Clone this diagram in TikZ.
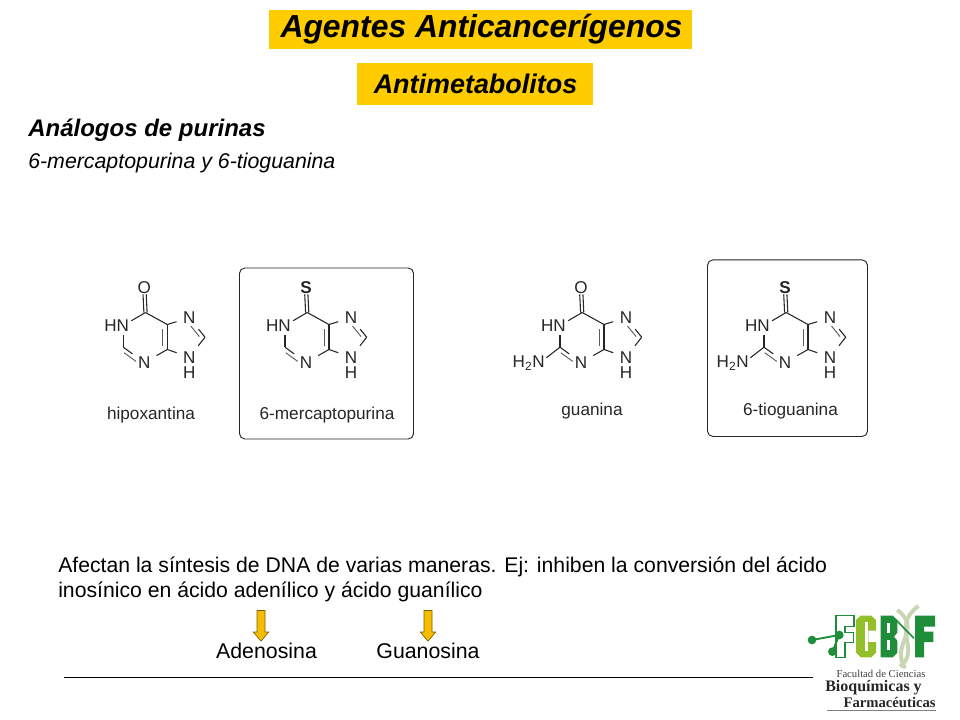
\documentclass[tikz,border=0pt]{standalone}
\usepackage{fontspec}
\setmainfont{Liberation Sans}
\newfontfamily\logofont{Liberation Serif}
\usepackage{xcolor}
\usepackage{tikz}
\usetikzlibrary{shapes,arrows,calc}
\definecolor{banner}{HTML}{FFCC00}
\definecolor{arrowfill}{HTML}{F5BC00}
\definecolor{arrowedge}{HTML}{7F6000}
\definecolor{inkbond}{HTML}{262626}
\definecolor{logodark}{HTML}{1F8E3A}
\definecolor{logolime}{HTML}{93BF2B}
\definecolor{logohelix}{HTML}{C9D6B4}
\tikzstyle{banner} = [rectangle, fill=banner, inner sep=0pt]
\tikzstyle{atom} = [inner sep=0pt, text=inkbond, font=\fontsize{12.8}{14}\selectfont]
\tikzstyle{caption} = [inner sep=0pt, text=inkbond, font=\fontsize{12.9}{15}\selectfont]
\tikzstyle{bond} = [draw=inkbond, line width=0.8pt]
\tikzstyle{tohetero} = [bond, shorten >=5pt]
\tikzstyle{toamide} = [bond, shorten >=7pt]
\tikzstyle{inner} = [draw=inkbond!75, line width=0.7pt, shorten >=5.5pt, shorten <=3pt]
\tikzstyle{panel} = [draw=inkbond, line width=0.7pt, rounded corners=4pt, inner sep=0pt]
\tikzstyle{downarrow} = [single arrow, draw=arrowedge, fill=arrowfill, line width=0.5pt, rotate=-90, inner sep=2.75pt,
    minimum height=23pt, minimum width=11.25pt, single arrow head extend=2.8pt, single arrow tip angle=80, single arrow head indent=0pt]
% one purine ring: prefix, x of the carbonyl carbon, text of the top atom
\newcommand{\purina}[3]{
  \begin{scope}[shift={(#2,312.5)}]
    \coordinate (#1c6) at (0,0);
    \coordinate (#1n1) at (-22.2,13);
    \coordinate (#1c2) at (-22.2,34.7);
    \coordinate (#1c4) at (21.8,37);
    \coordinate (#1c5) at (21.8,12);
    \coordinate (#1c8) at (59.5,24.7);
    \node [atom] (#1top) at (-1.2,-24.8) {#3};
    \node [atom, anchor=east] (#1hn) at (-16.2,13) {HN};
    \node [atom] (#1n3) at (-1.2,50) {N};
    \node [atom] (#1n7) at (43.8,5.3) {N};
    \node [atom] (#1n9) at (43.8,44.7) {N};
    \node [atom] (#1h9) at (43.8,60.3) {H};
    % bonds
    \path [toamide] (#1c6) -- (#1n1);
    \path [toamide] (#1c2) -- (#1n1);
    \path [tohetero] (#1c2) -- (#1n3);
    \path [tohetero] (#1c4) -- (#1n3);
    \path [bond] (#1c4) -- (#1c5);
    \path [bond] (#1c5) -- (#1c6);
    \path [tohetero] (#1c5) -- (#1n7);
    \path [tohetero] (#1c8) -- (#1n7);
    \path [tohetero] (#1c8) -- (#1n9);
    \path [tohetero] (#1c4) -- (#1n9);
    \path [inner] ($(#1c2)!3pt!-90:(#1n3)$) -- ($(#1n3)!3pt!90:(#1c2)$);
    \path [inner] ($(#1c8)!3pt!90:(#1n7)$) -- ($(#1n7)!3pt!-90:(#1c8)$);
    \path [inner, shorten >=3pt] ($(#1c4)!3.5pt!90:(#1c5)$) -- ($(#1c5)!3.5pt!-90:(#1c4)$);
    \path [tohetero] ($(#1c6)!1.2pt!90:(#1top)$) -- ($(#1top)!1.2pt!-90:(#1c6)$);
    \path [tohetero] ($(#1c6)!1.2pt!-90:(#1top)$) -- ($(#1top)!1.2pt!90:(#1c6)$);
  \end{scope}
}
% amino group on C2
\newcommand{\amino}[2]{
  \begin{scope}[shift={(#2,312.5)}]
    \coordinate (#1n2) at (-43.3,51);
    \node [atom, anchor=east] (#1nh) at (-37.3,51) {H\textsubscript{2}N};
    \path [toamide] (#1c2) -- (#1n2);
  \end{scope}
}
\begin{document}
\begin{tikzpicture}[x=0.75pt, y=-0.75pt]
    \useasboundingbox (0,0) rectangle (960,720);
    % Place nodes
    \node [banner, minimum width=317.25pt, minimum height=29.25pt] (titlebar) at (480.5,29.5) {};
    \node [anchor=base, inner sep=0pt, font=\fontsize{23.9}{28}\bfseries\itshape\selectfont] (title) at (481.5,38) {Agentes Anticancerígenos};
    \node [banner, minimum width=177pt, minimum height=31.5pt] (subtitlebar) at (475,84) {};
    \node [anchor=base, inner sep=0pt, font=\fontsize{20.2}{24}\bfseries\itshape\selectfont] (subtitle) at (475.5,94) {Antimetabolitos};
    \node [anchor=base west, inner sep=0pt, font=\fontsize{18}{22}\bfseries\itshape\selectfont] (heading) at (28,137) {Análogos de purinas};
    \node [anchor=base west, inner sep=0pt, font=\fontsize{16}{20}\itshape\selectfont] (subheading) at (28,169) {6-mercaptopurina y 6-tioguanina};
    \node [panel, minimum width=130.5pt, minimum height=128.25pt] (boxmp) at (326.5,353.5) {};
    \node [panel, minimum width=120pt, minimum height=132.4pt] (boxtg) at (787.5,348.2) {};
    \purina{hx}{145.5}{O}
    \purina{mp}{307.2}{\textbf{S}}
    \purina{gu}{582.2}{O}
    \purina{tg}{786.2}{\textbf{S}}
    \amino{gu}{582.2}
    \amino{tg}{786.2}
    \node [caption, anchor=base] (caphx) at (151,419) {hipoxantina};
    \node [caption, anchor=base] (capmp) at (327,419) {6-mercaptopurina};
    \node [caption, anchor=base] (capgu) at (592,415) {guanina};
    \node [caption, anchor=base] (captg) at (790.5,415) {6-tioguanina};
    \node [anchor=base west, inner sep=0pt, font=\fontsize{15.9}{20}\selectfont] (bodya) at (58,572) {Afectan la síntesis de DNA de varias maneras. Ej: inhiben la conversión del ácido};
    \node [anchor=base west, inner sep=0pt, font=\fontsize{15.9}{20}\selectfont] (bodyb) at (58,597) {inosínico en ácido adenílico y ácido guanílico};
    \node [downarrow] (arrowade) at (261,623.5) {};
    \node [downarrow] (arrowgua) at (428,623.5) {};
    \node [anchor=base, inner sep=0pt, font=\fontsize{16}{20}\selectfont] (adenosina) at (266.5,658) {Adenosina};
    \node [anchor=base, inner sep=0pt, font=\fontsize{16}{20}\selectfont] (guanosina) at (428,658) {Guanosina};
    \coordinate (rulea) at (64,677.5);
    \coordinate (ruleb) at (813,677.5);
    \path [draw, line width=0.75pt] (rulea) -- (ruleb);
    % Logo
    \begin{scope}[shift={(790,600)}, x=0.25pt, y=-0.25pt]
      \fill [logodark] (272,47) -- (308,47) -- (322,60) -- (322,98) -- (312,110) -- (322,122) -- (322,158) -- (308,172) -- (272,172) -- cycle;
      \fill [white] (292,70) rectangle (300,100);
      \fill [white] (292,120) rectangle (300,150);
      \fill [logolime] (212,47) -- (244,47) -- (258,60) -- (258,92) -- (235,92) -- (235,126) -- (258,126) -- (258,158) -- (244,172) -- (212,172) -- (198,158) -- (198,60) -- cycle;
      \fill [white] (225,65) rectangle (235,152);
      \fill [logodark] (375,47) -- (435,47) -- (435,80) -- (402,80) -- (402,95) -- (430,95) -- (430,126) -- (402,126) -- (402,172) -- (375,172) -- cycle;
      \draw [logohelix, line width=3pt] (322,30) .. controls (400,90) and (300,130) .. (345,205);
      \draw [logohelix, line width=3pt] (385,18) .. controls (300,80) and (395,150) .. (330,200);
      \draw [logodark, line width=1.2pt] (320,62) -- (372,115);
      \draw [fill=white, draw=logodark, line width=0.8pt] (138,47) -- (192,47) -- (192,80) -- (165,80) -- (165,97) -- (190,97) -- (190,127) -- (165,127) -- (165,172) -- (138,172) -- cycle;
      \draw [logodark, line width=1.4pt] (66,120) -- (148,105) -- (127,155);
      \fill [logodark] (66,120) circle (13);
      \fill [logodark] (148,105) circle (13);
      \fill [logodark] (127,155) circle (13);
      \node [inner sep=0pt, text=black!75, font=\logofont\fontsize{8}{9}\selectfont] (faculty) at (273,222) {Facultad de Ciencias};
      \node [inner sep=0pt, anchor=west, text=black!85, font=\logofont\fontsize{12}{13}\bfseries\selectfont] (bioq) at (105,262) {Bioquímicas y};
      \node [inner sep=0pt, anchor=west, text=black!85, font=\logofont\fontsize{11}{13}\bfseries\selectfont] (farm) at (160,306) {Farmacéuticas};
      \draw [black!50, line width=0.6pt] (110,332) -- (437,332);
    \end{scope}
\end{tikzpicture}
\end{document}
